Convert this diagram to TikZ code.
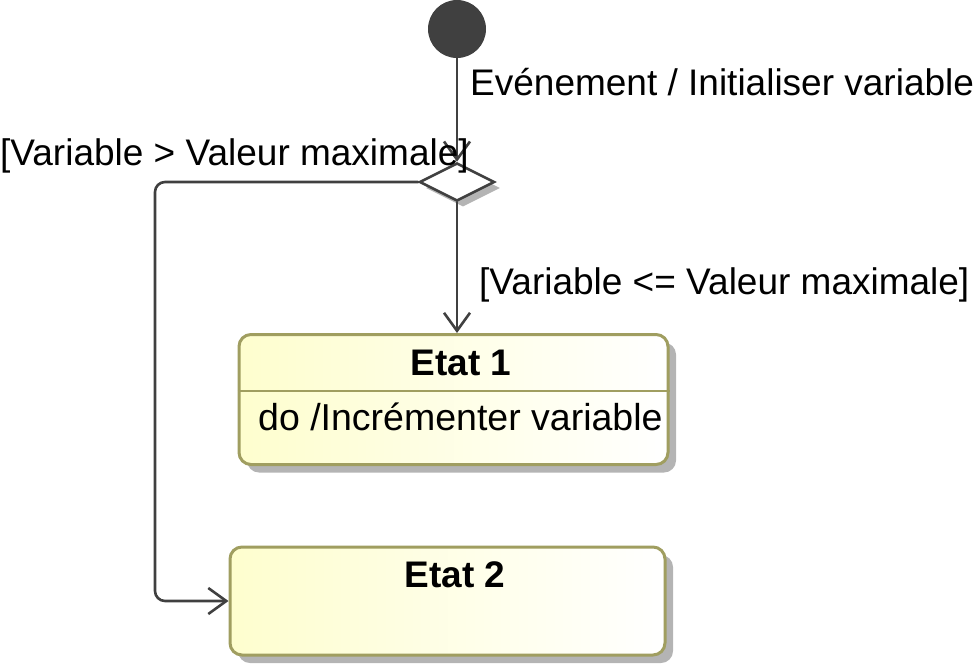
\documentclass[tikz,border=0pt]{standalone}
\usepackage{fontspec}
\setmainfont{Liberation Sans}
\usetikzlibrary{arrows.meta,shapes.geometric,shadows}
\definecolor{border}{RGB}{160,158,96}
\definecolor{statefill}{RGB}{254,254,206}
\definecolor{conncol}{RGB}{64,64,64}
\definecolor{shadowcol}{RGB}{180,180,180}
\tikzset{
  lbl/.style={anchor=base west, inner sep=0pt, font=\fontsize{37}{44}\selectfont},
  titlelbl/.style={anchor=base, inner sep=0pt, font=\fontsize{37}{44}\selectfont\bfseries},
  statebox/.style={rectangle, rounded corners=12pt, draw=border, line width=3pt,
    left color=statefill, right color=white, inner sep=0pt,
    drop shadow={shadow xshift=8pt, shadow yshift=-8pt, fill=shadowcol, opacity=1}},
  conn/.style={draw=conncol, line width=2.6pt, line cap=round,
    -{Straight Barb[length=18pt,width=26pt,line width=2.6pt]}},
}
\begin{document}
\begin{tikzpicture}[x=1pt,y=-1pt]
\useasboundingbox (0,0) rectangle (977,665);
% initial state
\node[circle, fill=conncol, minimum size=58pt, inner sep=0pt] (init) at (457,29) {};
% decision
\node[diamond, draw=conncol, fill=white, line width=2.6pt, minimum width=75pt, minimum height=38pt,
  inner sep=0pt, drop shadow={shadow xshift=6pt, shadow yshift=-6pt, fill=shadowcol, opacity=1}] (dec) at (457,182) {};
% states
\node[statebox, minimum width=429pt, minimum height=130pt] (e1) at (453.5,399.5) {};
\node[statebox, minimum width=435pt, minimum height=108pt] (e2) at (447.5,601) {};
\coordinate (div) at (0,391);
\draw[draw=border, line width=2.5pt] (e1.west |- div) -- (e1.east |- div);
\node[titlelbl] (t1) at (461,375) {Etat 1};
\node[lbl, font=\fontsize{37.5}{44}\selectfont] (d1) at (258,430) {do /Incrémenter variable};
\node[titlelbl] (t2) at (455,587) {Etat 2};
% connectors
\draw[conn] (init) -- (dec.north);
\draw[conn] (dec.south) -- (dec.south |- e1.north);
\coordinate (lc) at (155,182);
\draw[conn, rounded corners=10pt] (dec.west) -- (lc) -- (lc |- e2.west) -- (e2.west);
% labels
\node[lbl] (l0) at (470,95.5) {Evénement / Initialiser variable};
\node[lbl] (l1) at (0,165) {[Variable > Valeur maximale]};
\node[lbl] (l2) at (479,294) {[Variable <= Valeur maximale]};
\end{tikzpicture}
\end{document}
